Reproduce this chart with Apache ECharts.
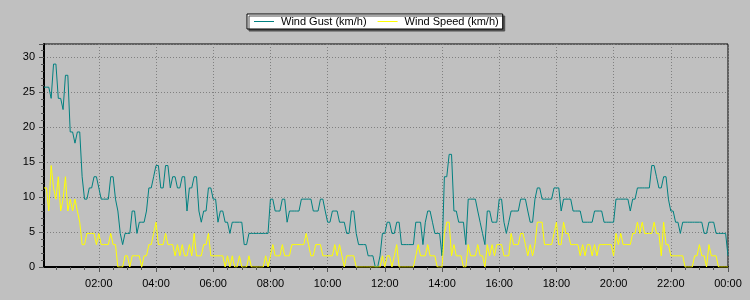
<!DOCTYPE html>
<html>
<head>
<meta charset="utf-8">
<script src="https://cdn.jsdelivr.net/npm/echarts@6/dist/echarts.min.js"></script>
<style>
html,body{margin:0;padding:0;background:#c0c0c0;}
#c{width:750px;height:300px;}
</style>
</head>
<body>
<div id="c"></div>
<script>
// 5-minute readings from 00:05 to 24:00 (km/h)
var windGust = [
25.7,25.7,25.7,24.1,29.0,29.0,24.1,24.1,22.5,27.4,27.4,19.3,19.3,17.7,19.3,19.3,12.9,9.7,9.7,11.3,11.3,12.9,12.9,11.3,
9.7,9.7,9.7,9.7,12.9,12.9,9.7,8.0,4.8,3.2,4.8,4.8,4.8,8.0,8.0,4.8,6.4,6.4,6.4,8.0,11.3,11.3,12.9,14.5,
14.5,11.3,11.3,14.5,14.5,11.3,12.9,12.9,11.3,11.3,12.9,12.9,8.0,11.3,11.3,12.9,12.9,8.0,6.4,8.0,8.0,11.3,11.3,9.7,
9.7,6.4,8.0,8.0,6.4,6.4,4.8,6.4,6.4,6.4,6.4,6.4,3.2,3.2,4.8,4.8,4.8,4.8,4.8,4.8,4.8,4.8,4.8,9.7,
9.7,8.0,8.0,8.0,9.7,9.7,6.4,8.0,8.0,8.0,8.0,8.0,9.7,9.7,9.7,9.7,9.7,8.0,8.0,8.0,9.7,9.7,8.0,6.4,
6.4,8.0,8.0,8.0,6.4,6.4,6.4,4.8,4.8,8.0,8.0,4.8,3.2,3.2,3.2,3.2,1.6,1.6,1.6,0,0,1.6,4.8,4.8,
6.4,6.4,4.8,4.8,6.4,6.4,3.2,3.2,3.2,3.2,3.2,3.2,6.4,6.4,6.4,3.2,6.4,8.0,8.0,6.4,4.8,4.8,4.8,1.6,
12.9,12.9,16.1,16.1,8.0,8.0,6.4,6.4,6.4,3.2,9.7,9.7,9.7,9.7,8.0,6.4,4.8,3.2,8.0,8.0,6.4,6.4,6.4,9.7,
9.7,6.4,4.8,6.4,8.0,8.0,8.0,8.0,9.7,9.7,9.7,8.0,6.4,6.4,9.7,11.3,11.3,9.7,9.7,9.7,9.7,9.7,11.3,11.3,
11.3,8.0,9.7,9.7,9.7,9.7,8.0,8.0,8.0,8.0,6.4,6.4,6.4,6.4,6.4,8.0,8.0,8.0,8.0,6.4,6.4,6.4,6.4,6.4,
9.7,9.7,9.7,9.7,9.7,9.7,8.0,9.7,9.7,11.3,11.3,11.3,11.3,11.3,11.3,14.5,14.5,12.9,11.3,11.3,12.9,12.9,9.7,8.0,
8.0,6.4,6.4,4.8,6.4,6.4,6.4,6.4,6.4,6.4,6.4,6.4,6.4,4.8,4.8,6.4,6.4,6.4,4.8,4.8,4.8,4.8,4.8,1.6
];
var windSpeed = [
11.3,11.3,8.0,14.5,11.3,9.7,12.9,8.0,9.7,12.9,8.0,9.7,8.0,9.7,8.0,6.4,3.2,3.2,4.8,4.8,4.8,4.8,3.2,4.8,
3.2,3.2,3.2,3.2,4.8,3.2,3.2,0,0,0,1.6,1.6,0,1.6,1.6,1.6,1.6,0,1.6,1.6,3.2,3.2,4.8,6.4,
3.2,3.2,3.2,4.8,3.2,3.2,3.2,1.6,3.2,1.6,3.2,1.6,1.6,3.2,1.6,4.8,1.6,1.6,1.6,3.2,3.2,4.8,1.6,1.6,
1.6,1.6,1.6,1.6,0,1.6,0,1.6,0,0,1.6,0,0,0,1.6,0,0,0,0,0,0,1.6,0,1.6,
3.2,1.6,1.6,1.6,3.2,1.6,1.6,1.6,3.2,3.2,3.2,3.2,3.2,3.2,4.8,3.2,1.6,1.6,3.2,3.2,3.2,1.6,1.6,1.6,
1.6,1.6,3.2,1.6,3.2,1.6,0,1.6,1.6,1.6,1.6,0,0,0,0,0,0,0,0,0,0,0,1.6,0,
1.6,1.6,0,1.6,3.2,0,0,0,0,0,0,0,1.6,3.2,1.6,1.6,1.6,3.2,1.6,1.6,1.6,0,0,0,
4.8,6.4,6.4,1.6,3.2,1.6,1.6,1.6,0,0,3.2,1.6,1.6,1.6,3.2,1.6,1.6,0,3.2,1.6,3.2,1.6,3.2,3.2,
3.2,1.6,1.6,1.6,4.8,3.2,3.2,3.2,4.8,4.8,3.2,1.6,3.2,1.6,3.2,6.4,6.4,6.4,3.2,3.2,3.2,3.2,4.8,6.4,
3.2,3.2,6.4,4.8,4.8,3.2,3.2,3.2,3.2,1.6,3.2,1.6,3.2,3.2,1.6,3.2,1.6,3.2,3.2,3.2,3.2,3.2,3.2,1.6,
4.8,3.2,4.8,3.2,3.2,3.2,3.2,4.8,4.8,6.4,4.8,6.4,4.8,4.8,4.8,4.8,6.4,4.8,4.8,1.6,6.4,3.2,3.2,1.6,
1.6,1.6,1.6,1.6,1.6,0,0,0,0,1.6,1.6,3.2,1.6,1.6,0,3.2,1.6,1.6,1.6,0,0,0,0,0
];
var seriesNames = ['Wind Gust (km/h)', 'Wind Speed (km/h)'];
var yTickValues = [0, 5, 10, 15, 20, 25, 30];
var yMax = 31.87;

// time categories: every 5 minutes, 00:05 .. 24:00 (shown as 00:00)
var times = [];
for (var m = 5; m <= 1440; m += 5) {
  var h = Math.floor(m / 60) % 24, mm = m % 60;
  times.push((h < 10 ? '0' : '') + h + ':' + (mm < 10 ? '0' : '') + mm);
}

var font = 'Liberation Sans, Arial, sans-serif';
var chart = echarts.init(document.getElementById('c'), null, {renderer: 'canvas'});
var isMajor = function (i) { return (i + 1) % 24 === 0; };
var isMinor = function (i) { return (i + 1) % 6 === 0; };

chart.setOption({
  animation: false,
  backgroundColor: '#c0c0c0',
  legend: {
    data: seriesNames,
    left: 247, top: 14,
    padding: [2, 4, 2, 7],
    itemGap: 11,
    itemWidth: 20, itemHeight: 1,
    icon: 'rect',
    backgroundColor: '#ffffff',
    borderColor: '#000000', borderWidth: 1, borderRadius: 0,
    shadowColor: '#505050', shadowBlur: 0, shadowOffsetX: 2, shadowOffsetY: 2,
    textStyle: {fontFamily: font, fontSize: 11, color: '#000', padding: [0, 0, 0, 2]}
  },
  grid: {
    left: 44, right: 22, top: 44, bottom: 33,
    show: true, borderColor: '#000', borderWidth: 1, backgroundColor: '#c0c0c0'
  },
  xAxis: [{
    type: 'category', data: times, boundaryGap: false,
    axisLine: {show: true, lineStyle: {color: '#000', width: 2}},
    axisTick: {show: true, interval: function (i) { return isMinor(i); }, length: 3, lineStyle: {color: '#555'}},
    axisLabel: {show: false},
    splitLine: {show: true, interval: function (i) { return isMajor(i); }, lineStyle: {color: '#808080', type: [1, 2], width: 1}}
  }, {
    type: 'category', data: times, boundaryGap: false, position: 'bottom',
    axisLine: {show: false},
    axisTick: {show: true, interval: function (i) { return isMajor(i); }, length: 5, lineStyle: {color: '#555'}},
    axisLabel: {show: true, interval: function (i) { return isMajor(i); }, margin: 11, fontFamily: font, fontSize: 11, color: '#000'},
    splitLine: {show: false}
  }],
  yAxis: {
    type: 'value', min: 0, max: yMax, interval: 5,
    axisLine: {show: true, lineStyle: {color: '#000', width: 2}},
    axisTick: {show: true, length: 5, lineStyle: {color: '#555'}},
    minorTick: {show: true, splitNumber: 5, length: 3, lineStyle: {color: '#555'}},
    axisLabel: {
      margin: 9, fontFamily: font, fontSize: 11, color: '#000',
      formatter: function (v) { return yTickValues.indexOf(v) >= 0 ? String(v) : ''; }
    },
    splitLine: {show: true, lineStyle: {color: '#808080', type: [1, 2], width: 1}}
  },
  series: [{
    name: seriesNames[0], type: 'line', data: windGust, xAxisIndex: 0,
    symbol: 'none', color: '#008080', lineStyle: {width: 1, color: '#008080'}
  }, {
    name: seriesNames[1], type: 'line', data: windSpeed, xAxisIndex: 0,
    symbol: 'none', color: '#ffff00', lineStyle: {width: 1, color: '#ffff00'}
  }]
});
</script>
</body>
</html>
